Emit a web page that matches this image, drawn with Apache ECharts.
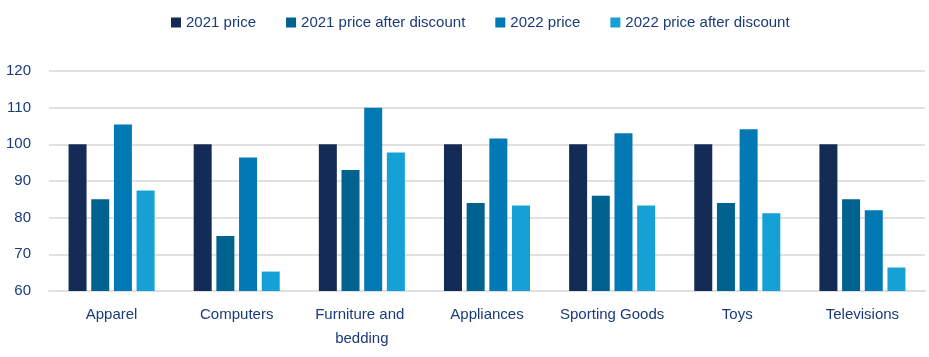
<!DOCTYPE html>
<html>
<head>
<meta charset="utf-8">
<script src="https://cdn.jsdelivr.net/npm/echarts@6/dist/echarts.min.js"></script>
<style>
html,body{margin:0;padding:0;background:#fff;}
#chart{width:929px;height:357px;}
</style>
</head>
<body>
<div id="chart"></div>
<script>
var categories = ["Apparel", "Computers", "Furniture and bedding", "Appliances", "Sporting Goods", "Toys", "Televisions"];
var seriesNames = ["2021 price", "2021 price after discount", "2022 price", "2022 price after discount"];
var price2021 = [100, 100, 100, 100, 100, 100, 100];
var price2021Discount = [85, 75, 93, 84, 86, 84, 85];
var price2022 = [105.4, 96.4, 110, 101.6, 103, 104.1, 82];
var price2022Discount = [87.4, 65.3, 97.8, 83.3, 83.3, 81.2, 66.4];
var yTicks = [60, 70, 80, 90, 100, 110, 120];

var colors = ["#142B55", "#00628F", "#0079B4", "#15A1D5"];
var textColor = "#1a3b7a";
var font = "'Liberation Sans', Arial, sans-serif";
var allData = [price2021, price2021Discount, price2022, price2022Discount];

var chart = echarts.init(document.getElementById('chart'), null, {renderer: 'canvas'});
chart.setOption({
  animation: false,
  color: colors,
  textStyle: {fontFamily: font},
  legend: {
    left: 171,
    top: 15,
    padding: 0,
    itemWidth: 10,
    itemHeight: 10,
    itemGap: 30,
    icon: 'rect',
    textStyle: {color: textColor, fontSize: 15, fontFamily: font},
    data: seriesNames
  },
  grid: {left: 49, right: 4, top: 71, bottom: 66},
  xAxis: {
    type: 'category',
    data: categories,
    axisTick: {show: false},
    axisLine: {show: true, lineStyle: {color: '#e1e1e1', width: 2}},
    axisLabel: {
      color: textColor, fontSize: 15, fontFamily: font, margin: 12,
      lineHeight: 24, width: 112, overflow: 'break', interval: 0
    }
  },
  yAxis: {
    type: 'value',
    min: yTicks[0],
    max: yTicks[yTicks.length - 1],
    interval: yTicks[1] - yTicks[0],
    axisLine: {show: false},
    axisTick: {show: false},
    axisLabel: {color: textColor, fontSize: 15, fontFamily: font, margin: 18},
    splitLine: {lineStyle: {color: '#e1e1e1', width: 2}}
  },
  series: seriesNames.map(function (name, i) {
    return {
      name: name,
      type: 'bar',
      data: allData[i],
      barWidth: 18,
      barGap: '26%',
      itemStyle: {color: colors[i]}
    };
  })
});
</script>
</body>
</html>
